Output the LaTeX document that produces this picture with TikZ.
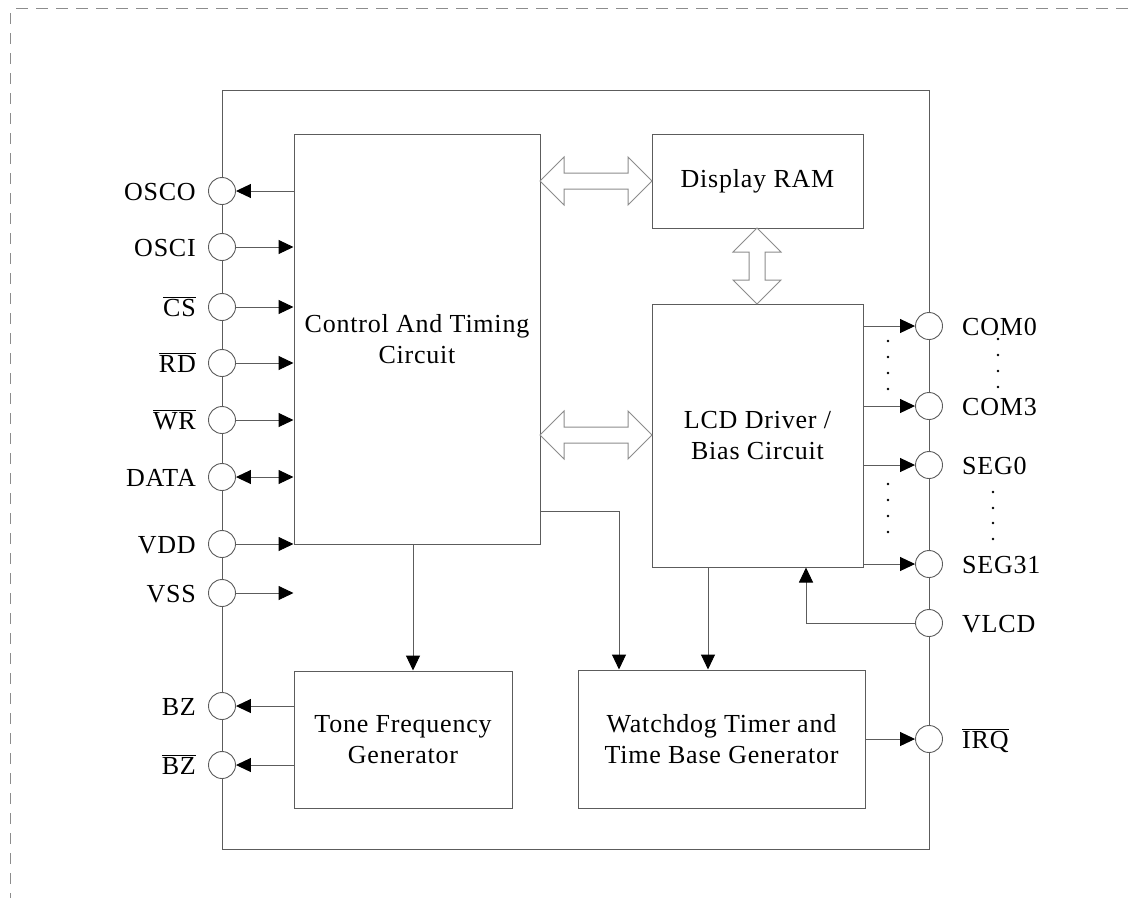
\documentclass[tikz,border=0pt]{standalone}
\usepackage{fontspec}
\setmainfont{Liberation Serif}
\usetikzlibrary{arrows.meta}
\definecolor{ln}{rgb}{0.36,0.36,0.36}
\definecolor{lnlight}{rgb}{0.55,0.55,0.55}
\newcommand{\lblfont}{\fontsize{26}{31}\selectfont\addfontfeatures{LetterSpace=3}}
\newcommand{\ovl}[1]{$\overline{\hbox{#1}}$}
\begin{document}
\begin{tikzpicture}[x=1pt,y=-1pt,
  box/.style={draw=ln, line width=1pt, inner sep=0pt, align=center, font=\lblfont},
  pin/.style={circle, draw=ln, fill=white, line width=0.9pt, minimum size=27pt, inner sep=0pt},
  lblL/.style={anchor=base east, inner sep=0pt, font=\lblfont},
  lblR/.style={anchor=base west, inner sep=0pt, font=\lblfont},
  arr/.style={draw=ln, line width=1pt, -{Triangle[length=15pt,width=14pt,color=black]}},
  darr/.style={draw=ln, line width=1pt, {Triangle[length=15pt,width=14pt,color=black]}-{Triangle[length=15pt,width=14pt,color=black]}},
  blockarrow/.style={draw=lnlight, line width=1pt, fill=white, line join=miter}]
\useasboundingbox (0,0) rectangle (1131,898);

% dashed frame
\draw[lnlight, line width=1pt, dash pattern=on 12pt off 8pt] (16,8) -- (1131,8);
\draw[lnlight, line width=1pt, dash pattern=on 11pt off 9pt] (10,13) -- (10,898);

% chip outline
\node[draw=ln, line width=1pt, minimum width=707pt, minimum height=759pt, inner sep=0pt] (chip) at (575.5,469.5) {};

% blocks
\node[box, minimum width=246pt, minimum height=410pt] (ctrl) at (417,339) {Control And Timing\\Circuit};
\node[box, minimum width=211pt, minimum height=94pt] (ram) at (757.5,181) {Display RAM};
\node[box, minimum width=211pt, minimum height=263pt] (lcd) at (757.5,435.5) {LCD Driver /\\Bias Circuit};
\node[box, minimum width=218pt, minimum height=137pt] (tone) at (403,739.5) {Tone Frequency\\Generator};
\node[box, minimum width=287pt, minimum height=138pt] (wdt) at (721.5,739) {Watchdog Timer and\\Time Base Generator};

% left pins
\foreach \n/\y in {osco/191, osci/247, cs/307, rd/363, wr/420, data/477, vdd/544, vss/593, bz/706, bzb/765}
  \node[pin] (\n) at (222,\y) {};
% right pins
\foreach \n/\y in {com0/326, com3/406, seg0/465, seg31/564, vlcd/623, irq/739}
  \node[pin] (\n) at (929,\y) {};

% left labels
\node[lblL] (losco) at (196,200) {OSCO};
\node[lblL] (losci) at (196,256) {OSCI};
\node[lblL] (lcs) at (196,316) {\ovl{CS}};
\node[lblL] (lrd) at (196,372) {\ovl{RD}};
\node[lblL] (lwr) at (196,429) {\ovl{WR}};
\node[lblL] (ldata) at (196,486) {DATA};
\node[lblL] (lvdd) at (196,553) {VDD};
\node[lblL] (lvss) at (196,602) {VSS};
\node[lblL] (lbz) at (196,715) {BZ};
\node[lblL] (lbzb) at (196,774) {\ovl{BZ}};
% right labels
\node[lblR] (lcom0) at (962,335) {COM0};
\node[lblR] (lcom3) at (962,415) {COM3};
\node[lblR] (lseg0) at (962,474) {SEG0};
\node[lblR] (lseg31) at (962,573) {SEG31};
\node[lblR] (lvlcd) at (962,632) {VLCD};
\node[lblR] (lirq) at (962,748) {\ovl{IRQ}};

% left connectors
\draw[arr] (osco.east -| ctrl.west) -- (osco.east);
\draw[arr] (osci.east) -- (osci.east -| ctrl.west);
\draw[arr] (cs.east) -- (cs.east -| ctrl.west);
\draw[arr] (rd.east) -- (rd.east -| ctrl.west);
\draw[arr] (wr.east) -- (wr.east -| ctrl.west);
\draw[darr] (data.east) -- (data.east -| ctrl.west);
\draw[arr] (vdd.east) -- (vdd.east -| ctrl.west);
\draw[arr] (vss.east) -- (vss.east -| ctrl.west);
\draw[arr] (bz.east -| tone.west) -- (bz.east);
\draw[arr] (bzb.east -| tone.west) -- (bzb.east);

% right connectors
\draw[arr] (com0.west -| lcd.east) -- (com0.west);
\draw[arr] (com3.west -| lcd.east) -- (com3.west);
\draw[arr] (seg0.west -| lcd.east) -- (seg0.west);
\draw[arr] (seg31.west -| lcd.east) -- (seg31.west);
\draw[arr] (irq.west -| wdt.east) -- (irq.west);
\coordinate (vcorner) at (806,623);
\draw[arr] (vlcd.west) -- (vcorner) -- (vcorner |- lcd.south);

% internal connectors
\coordinate (c2t) at (413,544);
\draw[arr] (c2t) -- (c2t |- tone.north);
\coordinate (c2w) at (540,511);
\coordinate (c2wk) at (619,511);
\draw[arr] (c2w) -- (c2wk) -- (c2wk |- wdt.north);
\coordinate (l2w) at (708,567);
\draw[arr] (l2w) -- (l2w |- wdt.north);

% block double arrows
\draw[blockarrow, shift={(0,181)}] (540,0) -- (564,-24) -- (564,-8) -- (628,-8) -- (628,-24) -- (652,0) -- (628,24) -- (628,8) -- (564,8) -- (564,24) -- cycle;
\draw[blockarrow, shift={(0,435)}] (540,0) -- (564,-24) -- (564,-8) -- (628,-8) -- (628,-24) -- (652,0) -- (628,24) -- (628,8) -- (564,8) -- (564,24) -- cycle;
\draw[blockarrow, shift={(757,0)}] (0,228) -- (24,252) -- (8,252) -- (8,280) -- (24,280) -- (0,304) -- (-24,280) -- (-8,280) -- (-8,252) -- (-24,252) -- cycle;

% dots
\foreach \y in {341,357,373,389,484,500,516,532} \fill (888,\y) circle (1.4pt);
\foreach \y in {339,355,371,387} \fill (998,\y) circle (1.4pt);
\foreach \y in {492,508,523,539} \fill (993,\y) circle (1.4pt);
\end{tikzpicture}
\end{document}
